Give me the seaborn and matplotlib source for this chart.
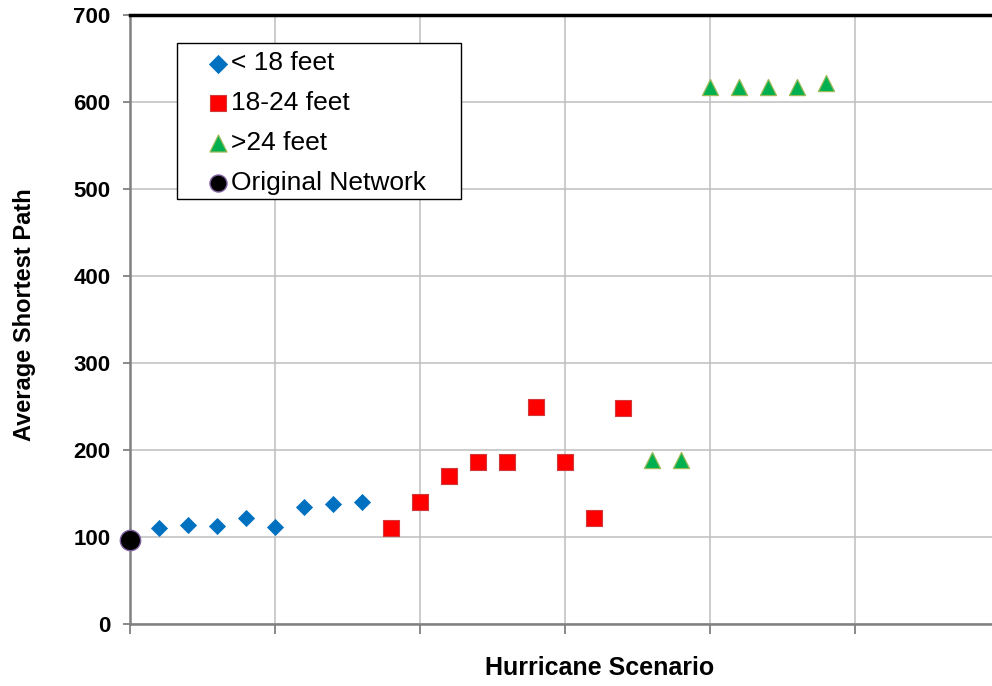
import matplotlib
matplotlib.use("Agg")
import matplotlib.pyplot as plt
from matplotlib.patches import Rectangle
import seaborn as sns

# ---- data ----
low_x = [1, 2, 3, 4, 5, 6, 7, 8]
low_y = [110, 114, 113, 122, 112, 134, 138, 140]
mid_x = [9, 10, 11, 12, 13, 14, 15, 16, 17]
mid_y = [110, 140, 170, 186, 186, 250, 186, 122, 248]
high_x = [18, 19, 20, 21, 22, 23, 24]
high_y = [189, 189, 617, 617, 617, 617, 622]
orig_x = [0]
orig_y = [97]
labels = ["< 18 feet", "18-24 feet", ">24 feet", "Original Network"]
y_ticks = [0, 100, 200, 300, 400, 500, 600, 700]
x_grid = [0, 5, 10, 15, 20, 25, 30]

sns.set_style("white")
plt.rcParams["font.family"] = ["Liberation Sans", "DejaVu Sans"]
plt.rcParams["text.color"] = "black"
plt.rcParams["axes.labelcolor"] = "black"
plt.rcParams["ytick.labelcolor"] = "black"

W, H = 992, 686
fig = plt.figure(figsize=(W / 100, H / 100), dpi=100)
ax = fig.add_axes([130 / W, 1 - 624 / H, 870 / W, 609 / H])

grid_c = "#BFBFBF"
sns.scatterplot(x=low_x, y=low_y, marker="D", s=66, color="#0070C0",
                edgecolor="#0070C0", linewidth=0.6, label=labels[0], ax=ax, zorder=3)
sns.scatterplot(x=mid_x, y=mid_y, marker="s", s=121, color="#FF0000",
                edgecolor="#D03A3A", linewidth=0.8, label=labels[1], ax=ax, zorder=3)
sns.scatterplot(x=high_x, y=high_y, marker="^", s=135, color="#00B050",
                edgecolor="#9BBB59", linewidth=0.9, label=labels[2], ax=ax, zorder=3)
sns.scatterplot(x=orig_x, y=orig_y, marker="o", s=215, color="#000000",
                edgecolor="#7F60A0", linewidth=1.0, label=labels[3], ax=ax,
                zorder=5, clip_on=False)

ax.set_xlim(0, 30)
ax.set_ylim(0, 700)
ax.set_xticks(x_grid)
ax.set_xticklabels([])
ax.set_yticks(y_ticks)
ax.set_yticklabels([str(v) for v in y_ticks], fontsize=16, fontweight="bold", color="black")
ax.grid(True, color=grid_c, linewidth=1.1)
ax.set_axisbelow(True)
ax.tick_params(axis="x", direction="out", length=7, width=1.3, color="#808080", bottom=True)
ax.tick_params(axis="y", direction="out", length=5, width=1.3, color="#808080", left=True, pad=9)

for side in ["left", "bottom"]:
    ax.spines[side].set_color("#808080")
    ax.spines[side].set_linewidth(1.8)
ax.spines["top"].set_color("black")
ax.spines["top"].set_linewidth(2.5)
ax.spines["right"].set_visible(False)

ax.set_xlabel("Hurricane Scenario", fontsize=18, fontweight="bold", color="black")
ax.xaxis.set_label_coords((600 - 130) / 870, -(668 - 624) / 609)
ax.xaxis.label.set_va("center")
ax.set_ylabel("Average Shortest Path", fontsize=17, fontweight="bold", color="black")
ax.yaxis.set_label_coords(-(130 - 25) / 870, (624 - 315) / 609)
ax.yaxis.label.set_va("center")

leg = ax.legend(loc="upper left", bbox_to_anchor=(207 / W, 1 - 51.5 / H),
                bbox_transform=fig.transFigure, frameon=False, fontsize=19,
                handlelength=0.8, handletextpad=0.1, borderpad=0.0,
                borderaxespad=0.0, labelspacing=0.6, scatterpoints=1)
for t in leg.get_texts():
    t.set_color("black")
for h, sz in zip(leg.legend_handles, [85, 140, 150, 150]):
    h.set_sizes([sz])
box = Rectangle((177 / W, 1 - 199 / H), (461 - 177) / W, (199 - 43) / H,
                transform=fig.transFigure, fill=True, facecolor="white",
                edgecolor="black", linewidth=1.0, zorder=6, clip_on=False)
ax.add_patch(box)
leg.set_zorder(10)

fig.savefig("out.png", dpi=100)
